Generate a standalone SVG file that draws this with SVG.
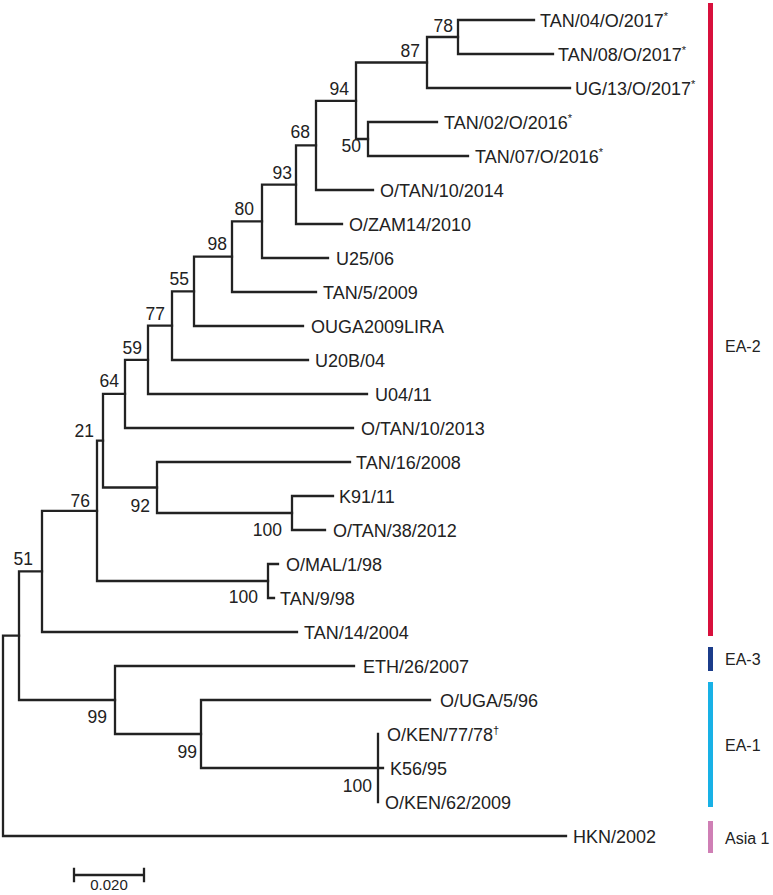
<svg xmlns="http://www.w3.org/2000/svg" width="773" height="895" viewBox="0 0 773 895">
<style>
.br{fill:none;stroke:#222;stroke-width:2.3;stroke-linecap:square}
.lf{font-family:"Liberation Sans",Arial,sans-serif;font-size:18px;fill:#222}
.bs{font-family:"Liberation Sans",Arial,sans-serif;font-size:17.5px;fill:#222;text-anchor:end}
.gl{font-family:"Liberation Sans",Arial,sans-serif;font-size:16px;fill:#222}
.sup{font-size:11px}
</style>
<rect width="773" height="895" fill="#fff"/>
<g id="connectors">
<path class="br" d="M534,20 H458 V54 H553"/>
<path class="br" d="M458,37 H427 V88 H570"/>
<path class="br" d="M437,122 H368 V156 H468"/>
<path class="br" d="M427,62.5 H356 V139 H368"/>
<path class="br" d="M356,100.8 H316 V190 H373"/>
<path class="br" d="M316,145.4 H296 V224 H342"/>
<path class="br" d="M296,184.7 H262 V258 H328"/>
<path class="br" d="M262,221.4 H232 V292 H316"/>
<path class="br" d="M232,256.7 H194 V326 H303"/>
<path class="br" d="M194,291.3 H172 V360 H308"/>
<path class="br" d="M172,325.7 H148 V394 H367"/>
<path class="br" d="M148,359.8 H125 V428 H353"/>
<path class="br" d="M333,496 H292 V530 H325"/>
<path class="br" d="M350,462 H157 V513 H292"/>
<path class="br" d="M125,393.9 H103 V487.5 H157"/>
<path class="br" d="M278,564 H268 V598 H274"/>
<path class="br" d="M103,440.7 H97 V581 H268"/>
<path class="br" d="M97,510.9 H42 V632 H297"/>
<path class="br" d="M378,734 V802 M378,768 H383"/>
<path class="br" d="M430,700 H201 V768 H378"/>
<path class="br" d="M354,666 H115 V734 H201"/>
<path class="br" d="M42,571.4 H19 V700 H115"/>
<path class="br" d="M19,635.7 H3 V836 H566"/>
</g>
<g id="leaves">
<g id="n-tan04"><text class="lf" x="540" y="26.5">TAN/04/O/2017<tspan class="sup" dy="-7">*</tspan></text></g>
<g id="n-tan08"><text class="lf" x="558" y="60.5">TAN/08/O/2017<tspan class="sup" dy="-7">*</tspan></text></g>
<g id="n-ug13"><text class="lf" x="575" y="94.5">UG/13/O/2017<tspan class="sup" dy="-7">*</tspan></text></g>
<g id="n-tan02"><text class="lf" x="444" y="128.5">TAN/02/O/2016<tspan class="sup" dy="-7">*</tspan></text></g>
<g id="n-tan07"><text class="lf" x="475" y="162.5">TAN/07/O/2016<tspan class="sup" dy="-7">*</tspan></text></g>
<g id="n-otan10-2014"><text class="lf" x="380" y="196.5">O/TAN/10/2014</text></g>
<g id="n-ozam14"><text class="lf" x="349" y="230.5">O/ZAM14/2010</text></g>
<g id="n-u25"><text class="lf" x="336" y="264.5">U25/06</text></g>
<g id="n-tan5"><text class="lf" x="323" y="298.5">TAN/5/2009</text></g>
<g id="n-ouga"><text class="lf" x="311" y="332.5">OUGA2009LIRA</text></g>
<g id="n-u20b"><text class="lf" x="315" y="366.5">U20B/04</text></g>
<g id="n-u04"><text class="lf" x="375" y="400.5">U04/11</text></g>
<g id="n-otan10-2013"><text class="lf" x="361" y="434.5">O/TAN/10/2013</text></g>
<g id="n-tan16"><text class="lf" x="356" y="468.5">TAN/16/2008</text></g>
<g id="n-k91"><text class="lf" x="339" y="502.5">K91/11</text></g>
<g id="n-otan38"><text class="lf" x="333" y="536.5">O/TAN/38/2012</text></g>
<g id="n-omal"><text class="lf" x="286" y="570.5">O/MAL/1/98</text></g>
<g id="n-tan9"><text class="lf" x="280" y="604.5">TAN/9/98</text></g>
<g id="n-tan14"><text class="lf" x="304" y="638.5">TAN/14/2004</text></g>
<g id="n-eth"><text class="lf" x="363" y="672.5">ETH/26/2007</text></g>
<g id="n-ouga5"><text class="lf" x="440" y="706.5">O/UGA/5/96</text></g>
<g id="n-oken77"><text class="lf" x="387" y="740.5">O/KEN/77/78<tspan class="sup" dy="-7">†</tspan></text></g>
<g id="n-k56"><text class="lf" x="390" y="774.5">K56/95</text></g>
<g id="n-oken62"><text class="lf" x="385" y="808.5">O/KEN/62/2009</text></g>
<g id="n-hkn"><text class="lf" x="573" y="842.5">HKN/2002</text></g>
</g>
<g id="support">
<g id="b78"><text class="bs" x="453" y="32">78</text></g>
<g id="b87"><text class="bs" x="420" y="57">87</text></g>
<g id="b94"><text class="bs" x="349" y="95">94</text></g>
<g id="b50"><text class="bs" x="361" y="152">50</text></g>
<g id="b68"><text class="bs" x="310" y="138">68</text></g>
<g id="b93"><text class="bs" x="292" y="179">93</text></g>
<g id="b80"><text class="bs" x="254" y="215">80</text></g>
<g id="b98"><text class="bs" x="227" y="250">98</text></g>
<g id="b55"><text class="bs" x="189" y="285">55</text></g>
<g id="b77"><text class="bs" x="165" y="320">77</text></g>
<g id="b59"><text class="bs" x="142" y="354">59</text></g>
<g id="b64"><text class="bs" x="119" y="387">64</text></g>
<g id="b21"><text class="bs" x="94" y="437">21</text></g>
<g id="b92"><text class="bs" x="150" y="512">92</text></g>
<g id="b100a"><text class="bs" x="282" y="536">100</text></g>
<g id="b76"><text class="bs" x="90" y="507">76</text></g>
<g id="b100b"><text class="bs" x="258" y="603">100</text></g>
<g id="b51"><text class="bs" x="33" y="565">51</text></g>
<g id="b99a"><text class="bs" x="107" y="723">99</text></g>
<g id="b99b"><text class="bs" x="197" y="758">99</text></g>
<g id="b100c"><text class="bs" x="372" y="792">100</text></g>
</g>
<g id="groups">
<g id="g-ea2"><rect x="708" y="3" width="5" height="633" fill="#d8103c"/><text class="gl" x="725" y="352">EA-2</text></g>
<g id="g-ea3"><rect x="708" y="647" width="5" height="24" fill="#1b3c8a"/><text class="gl" x="725" y="665">EA-3</text></g>
<g id="g-ea1"><rect x="708" y="682" width="5" height="125" fill="#18b1e6"/><text class="gl" x="725" y="751">EA-1</text></g>
<g id="g-asia1"><rect x="708" y="821" width="5" height="32" fill="#cf7fb5"/><text class="gl" x="725" y="844">Asia 1</text></g>
</g>
<g id="scale">
<path class="br" d="M74,875 H144 M74,869 V881 M144,869 V881"/>
<text class="gl" x="109" y="890" text-anchor="middle" style="font-size:15px">0.020</text>
</g>
</svg>
